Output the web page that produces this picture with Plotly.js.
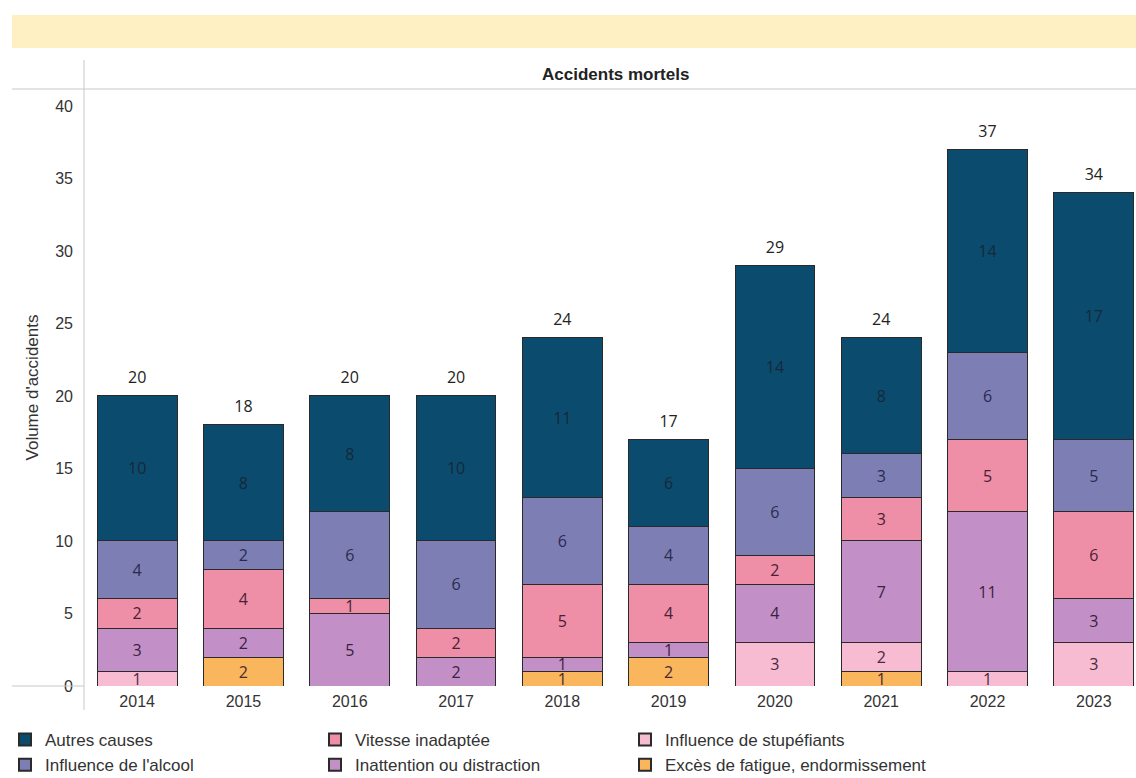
<!DOCTYPE html>
<html>
<head>
<meta charset="utf-8">
<script src="https://cdn.plot.ly/plotly-3.0.1.min.js"></script>
<style>html,body{margin:0;padding:0;background:#fff;}#chart{width:1136px;height:778px;}</style>
</head>
<body>
<div id="chart"></div>
<script>
const years = ['2014','2015','2016','2017','2018','2019','2020','2021','2022','2023'];
const fatigue     = [0, 2, 0, 0, 1, 2, 0, 1, 0, 0];
const stupefiants = [1, 0, 0, 0, 0, 0, 3, 2, 1, 3];
const inattention = [3, 2, 5, 2, 1, 1, 4, 7, 11, 3];
const vitesse     = [2, 4, 1, 2, 5, 4, 2, 3, 5, 6];
const alcool      = [4, 2, 6, 6, 6, 4, 6, 3, 6, 5];
const autres      = [10, 8, 8, 10, 11, 6, 14, 8, 14, 17];

const seriesNames = ['Excès de fatigue, endormissement','Influence de stupéfiants','Inattention ou distraction','Vitesse inadaptée',"Influence de l'alcool",'Autres causes'];
const seriesData = [fatigue, stupefiants, inattention, vitesse, alcool, autres];
const seriesColors = ['#F9B65C','#F7BBD2','#C290C6','#EE8FA7','#7D7FB4','#0B4C6E'];
const textColors = ['#4a2a30','#4a2a40','#3d2040','#4a2035','#2a2a50','#16283a'];
const ranks = [6,3,5,2,4,1];

const traces = seriesData.map((vals, i) => ({
  type: 'bar',
  name: seriesNames[i],
  x: years,
  y: vals,
  text: vals.map(v => v > 0 ? String(v) : ''),
  textposition: 'inside',
  insidetextanchor: 'middle',
  textangle: 0,
  constraintext: 'none',
  textfont: {family: 'Open Sans, sans-serif', size: 16, color: textColors[i]},
  marker: {color: seriesColors[i], line: {color: '#2a2a2a', width: 1}},
  legendrank: ranks[i],
  hoverinfo: 'x+y+name'
}));

const totals = years.map((y, j) => seriesData.reduce((s, arr) => s + arr[j], 0));
traces.push({
  type: 'scatter',
  mode: 'markers+text',
  x: years,
  y: totals,
  text: totals.map(String),
  textposition: 'top center',
  marker: {size: 12, opacity: 0},
  textfont: {family: 'Open Sans, sans-serif', size: 16, color: '#222'},
  showlegend: false,
  hoverinfo: 'skip',
  cliponaxis: false
});

const lineColor = '#c8c8c8';
const layout = {
  width: 1136,
  height: 778,
  barmode: 'stack',
  bargap: 0.25,
  paper_bgcolor: '#ffffff',
  plot_bgcolor: '#ffffff',
  margin: {l: 84, r: 0, t: 89, b: 92, pad: 0},
  font: {family: 'Liberation Sans, Arial, sans-serif', size: 16, color: '#333'},
  xaxis: {
    type: 'category',
    range: [-0.5, 9.397],
    showgrid: false,
    zeroline: false,
    showline: false,
    ticks: '',
    ticklabelstandoff: 4,
    tickfont: {size: 16, color: '#333'},
    fixedrange: true
  },
  yaxis: {
    range: [0, 41.17],
    dtick: 5,
    tick0: 0,
    showgrid: false,
    zeroline: false,
    showline: false,
    ticks: '',
    ticklabelstandoff: 10,
    tickfont: {size: 16, color: '#333'},
    title: {text: "Volume d'accidents", font: {size: 17, color: '#333'}, standoff: 12},
    fixedrange: true
  },
  legend: {
    orientation: 'h',
    xref: 'container',
    yref: 'container',
    x: 5/1136,
    y: 1 - 722/778,
    xanchor: 'left',
    yanchor: 'top',
    entrywidth: 265,
    entrywidthmode: 'pixels',
    traceorder: 'normal',
    font: {size: 17, color: '#333'},
    itemsizing: 'constant',
    tracegroupgap: 0
  },
  shapes: [
    {type: 'rect', xref: 'paper', yref: 'paper', x0: -72/1052, x1: 1, y0: 1 + 41/597, y1: 1 + 74/597, fillcolor: '#FEF0C2', line: {width: 0}, layer: 'below'},
    {type: 'line', xref: 'paper', yref: 'paper', x0: -72/1052, x1: 1, y0: 1, y1: 1, line: {color: lineColor, width: 1}},
    {type: 'line', xref: 'paper', yref: 'paper', x0: 0, x1: 0, y0: -24/597, y1: 1 + 29/597, line: {color: lineColor, width: 1}},
    {type: 'line', xref: 'paper', yref: 'paper', x0: -72/1052, x1: 0, y0: 0, y1: 0, line: {color: lineColor, width: 1}}
  ],
  annotations: [
    {text: '<b>Accidents mortels</b>', xref: 'paper', yref: 'paper', x: 0.505, y: 1 + 15/597, xanchor: 'center', yanchor: 'middle', showarrow: false, font: {size: 17, color: '#222'}}
  ]
};

Plotly.newPlot('chart', traces, layout, {displayModeBar: false, staticPlot: true});
</script>
</body>
</html>
